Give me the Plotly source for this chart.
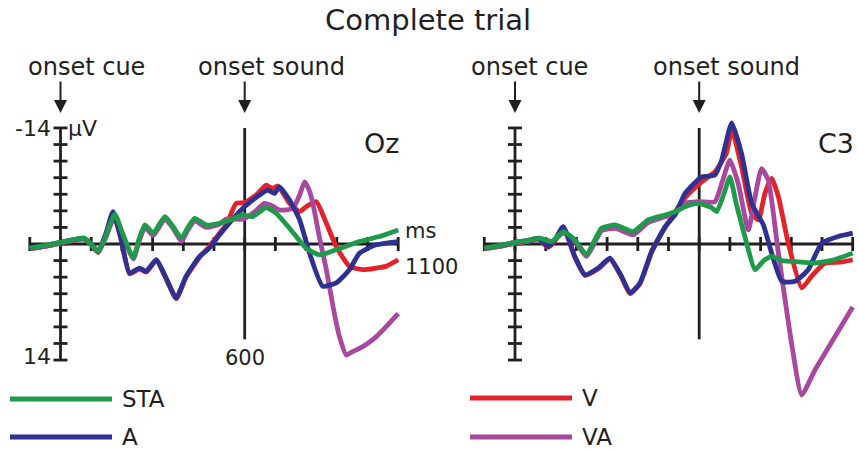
import plotly.graph_objects as go

# ---------------- data (time in ms, amplitude in microvolts; negative plotted up) ----------------
# Oz (left panel)
oz_sta_t = [-100, -50, 0, 40, 75, 100, 123, 150, 177, 200, 237, 255, 275, 302, 340, 365, 394, 415, 437, 475, 518,
            560, 594, 626, 670, 703, 746, 800, 844, 898, 974, 1039, 1100]
oz_sta_v = [0.5, 0.2, -0.2, -0.5, -0.7, 0.0, 0.9, -1.2, -3.6, -1.5, 1.7, -0.5, -2.3, -1.3, -3.3, -2.2, -0.7, -2.0, -3.1, -2.3, -2.5,
            -3.0, -3.5, -3.3, -4.4, -3.7, -1.9, 0.5, 1.3, 0.7, -0.3, -0.9, -1.7]

oz_va_t = [-100, -50, 0, 40, 75, 100, 123, 150, 177, 200, 237, 255, 275, 302, 340, 365, 394, 415, 437, 475, 518,
           540, 594, 630, 664, 690, 713, 757, 780, 795, 810, 822, 845, 866, 890, 909, 931, 950, 974, 1000, 1028, 1060, 1100]
oz_va_v = [0.6, 0.3, -0.1, -0.4, -0.6, 0.1, 1.0, -1.0, -3.4, -1.3, 1.8, -0.2, -2.0, -1.0, -3.0, -2.0, -0.3, -1.7, -2.8, -2.0, -2.4,
           -3.0, -3.0, -3.8, -4.9, -4.6, -4.1, -4.3, -6.0, -7.5, -6.5, -4.9, -0.5, 3.1, 8.0, 11.2, 13.4, 13.0, 12.6, 12.0, 11.2, 10.0, 8.4]

oz_a_t = [-100, -50, 0, 40, 75, 100, 123, 150, 171, 195, 225, 257, 279, 312, 344, 377, 409, 453, 485, 518,
          540, 594, 648, 675, 697, 713, 746, 779, 811, 854, 898, 941, 974, 1028, 1100]
oz_a_v = [0.5, 0.2, -0.2, -0.5, -0.7, 0.0, 0.9, -1.5, -3.9, -1.0, 3.5, 2.9, 3.3, 1.9, 4.1, 6.5, 3.9, 1.5, 0.5, -1.1,
          -2.1, -4.3, -5.9, -6.5, -6.1, -6.9, -5.3, -2.9, 1.1, 5.1, 4.7, 3.1, 1.1, 0.1, -0.3]

oz_v_t = [-100, -50, 0, 40, 75, 100, 123, 150, 171, 195, 225, 257, 279, 312, 344, 377, 409, 453, 485, 518,
          540, 572, 600, 640, 670, 690, 708, 746, 779, 800, 833, 866, 898, 941, 985, 1028, 1060, 1100]
oz_v_v = [0.6, 0.3, -0.1, -0.4, -0.6, 0.1, 1.0, -1.4, -3.7, -0.9, 3.6, 3.0, 3.4, 2.0, 4.2, 6.6, 4.0, 1.6, 0.3, -1.3,
          -2.3, -4.9, -5.0, -6.0, -7.1, -6.7, -7.0, -4.9, -3.9, -4.5, -5.1, -2.5, 0.3, 2.7, 3.1, 2.9, 2.7, 1.9]

# C3 (right panel)
c3_sta_t = [-100, -50, 0, 40, 76, 100, 120, 157, 195, 233, 260, 282, 326, 342, 385, 434, 489, 521, 554, 597, 640,
            657, 680, 700, 720, 749, 782, 810, 836, 870, 901, 977, 1040, 1100]
c3_sta_v = [0.5, 0.2, -0.2, -0.4, -0.7, -0.5, -0.3, -1.5, -0.5, 1.3, -0.5, -1.9, -2.3, -2.1, -1.5, -2.9, -3.5, -3.9, -4.5, -4.9, -4.4,
            -3.9, -6.0, -8.1, -5.0, -0.9, 3.1, 2.0, 1.5, 2.0, 2.1, 2.3, 1.9, 1.1]

c3_va_t = [-100, -50, 0, 40, 76, 100, 120, 157, 195, 233, 260, 282, 326, 342, 385, 434, 489, 521,
           554, 597, 651, 675, 700, 727, 760, 782, 803, 825, 858, 901, 934, 977, 1042, 1100]
c3_va_v = [0.6, 0.3, -0.1, -0.3, -0.6, -0.4, -0.2, -1.3, -0.3, 1.5, -0.2, -1.6, -1.9, -1.7, -1.1, -2.6, -3.3, -3.7,
           -4.9, -5.1, -5.1, -7.5, -10.1, -7.3, -1.7, -5.7, -9.1, -7.7, 1.1, 12.0, 18.2, 15.2, 11.2, 7.6]

c3_a_t = [-100, -50, 0, 40, 76, 108, 130, 157, 195, 228, 271, 309, 347, 375, 407, 445, 489, 521, 554, 608, 651,
          673, 706, 738, 771, 809, 836, 869, 912, 955, 999, 1053, 1100]
c3_a_v = [0.5, 0.2, -0.2, -0.4, -0.7, 0.3, -0.5, -2.1, 1.5, 3.7, 2.9, 1.7, 3.9, 5.9, 4.7, 0.9, -2.1, -3.5, -6.1, -8.1, -8.3,
          -10.1, -14.6, -10.9, -4.9, -2.3, 1.1, 4.5, 4.5, 3.1, -0.1, -0.9, -1.3]

c3_v_t = [-100, -50, 0, 40, 76, 108, 130, 157, 195, 228, 271, 309, 347, 375, 407, 445, 489, 554, 608, 651,
          689, 706, 738, 771, 793, 814, 836, 858, 890, 934, 966, 1010, 1060, 1100]
c3_v_v = [0.6, 0.3, -0.1, -0.3, -0.6, 0.4, -0.4, -2.0, 1.6, 3.8, 3.0, 1.8, 4.0, 6.0, 4.8, 1.0, -2.0, -5.6, -7.5, -8.7,
          -11.0, -13.8, -9.3, -3.7, -2.9, -6.1, -7.9, -5.7, -0.1, 5.3, 3.9, 2.3, 2.2, 1.9]

y_ticks = list(range(-14, 15, 2))
x_ticks = list(range(-100, 1101, 100))
y_labels = ["-14", "14"]
x_labels = ["600", "1100"]
legend_names = ["STA", "A", "V", "VA"]

# ---------------- styles ----------------
C_STA = "#1f9a4a"
C_A = "#2e3192"
C_V = "#e3222a"
C_VA = "#a8489e"
INK = "#231f20"
FONT = "DejaVu Sans, Liberation Sans, Arial, sans-serif"
W, H = 858, 452

fig = go.Figure()

panels = [
    ("x", "y", oz_sta_t, oz_sta_v, oz_va_t, oz_va_v, oz_a_t, oz_a_v, oz_v_t, oz_v_v),
    ("x2", "y2", c3_sta_t, c3_sta_v, c3_va_t, c3_va_v, c3_a_t, c3_a_v, c3_v_t, c3_v_v),
]

for xa, ya, st, sv, vat, vav, at, av, vt, vv in panels:
    # axes
    fig.add_trace(go.Scatter(x=[x_ticks[0], x_ticks[-1]], y=[0, 0], mode="lines",
                             line=dict(color=INK, width=2.8), xaxis=xa, yaxis=ya, hoverinfo="skip"))
    fig.add_trace(go.Scatter(x=[0, 0], y=[y_ticks[0], y_ticks[-1]], mode="lines",
                             line=dict(color=INK, width=2.8), xaxis=xa, yaxis=ya, hoverinfo="skip"))
    fig.add_trace(go.Scatter(x=[600, 600], y=[y_ticks[0], 11.5], mode="lines",
                             line=dict(color=INK, width=2.8), xaxis=xa, yaxis=ya, hoverinfo="skip"))
    fig.add_trace(go.Scatter(x=[0] * len(y_ticks), y=y_ticks, mode="markers",
                             marker=dict(symbol="line-ew", size=10, line=dict(color=INK, width=2.8)),
                             xaxis=xa, yaxis=ya, hoverinfo="skip"))
    fig.add_trace(go.Scatter(x=x_ticks, y=[0] * len(x_ticks), mode="markers",
                             marker=dict(symbol="line-ns", size=10, line=dict(color=INK, width=2.8)),
                             xaxis=xa, yaxis=ya, hoverinfo="skip"))
    # curves
    for t, v, c, n in [(vt, vv, C_V, "V"), (vat, vav, C_VA, "VA"), (at, av, C_A, "A"), (st, sv, C_STA, "STA")]:
        fig.add_trace(go.Scatter(x=t, y=v, mode="lines", name=n,
                                 line=dict(color=c, width=4.8, shape="spline", smoothing=0.5),
                                 xaxis=xa, yaxis=ya))

# pixel geometry -> axis ranges
SCALE_X = 0.307      # px per ms
SCALE_Y = 8.29       # px per microvolt
Y0 = 244             # pixel row of 0 uV
L0, R0 = 60.5, 515   # pixel column of 0 ms in each panel
LD = (0, 420)
RD = (440, 858)

def xr(dom, zero):
    return [(dom[0] - zero) / SCALE_X, (dom[1] - zero) / SCALE_X]

yrange = [(H - Y0) / SCALE_Y, (0 - Y0) / SCALE_Y]

ax_common = dict(visible=False, showgrid=False, zeroline=False, fixedrange=True)
fig.update_layout(
    width=W, height=H,
    margin=dict(l=0, r=0, t=0, b=0),
    paper_bgcolor="white", plot_bgcolor="white",
    showlegend=False,
    xaxis=dict(domain=[LD[0] / W, LD[1] / W], range=xr(LD, L0), **ax_common),
    xaxis2=dict(domain=[RD[0] / W, RD[1] / W], range=xr(RD, R0), **ax_common),
    yaxis=dict(domain=[0, 1], range=yrange, anchor="x", **ax_common),
    yaxis2=dict(domain=[0, 1], range=yrange, anchor="x2", **ax_common),
    font=dict(family=FONT, color=INK),
)

def py(p):
    return 1 - p / H

def px(p):
    return p / W

ann = []
def text(s, x, y, size, xanchor="center"):
    ann.append(dict(text=s, x=px(x), y=py(y), xref="paper", yref="paper", showarrow=False,
                    xanchor=xanchor, yanchor="middle", font=dict(size=size, color=INK, family=FONT)))

text("Complete trial", 428, 20, 29)
text("onset cue", 86, 67, 24)
text("onset sound", 271, 67, 24)
text("onset cue", 529, 67, 24)
text("onset sound", 726, 67, 24)
text(y_labels[0], 53, 128, 22, "right")
text("μV", 66, 128, 22, "left")
text(y_labels[1], 53, 356, 22, "right")
text(x_labels[0], 245, 358, 21)
text("ms", 403, 231, 21, "left")
text(x_labels[1], 403, 267, 21, "left")
text("Oz", 381, 143, 27)
text("C3", 836, 143, 27)

# arrows at onset cue (0 ms) and onset sound (600 ms)
for xref in ["x", "x2"]:
    for t in [0, 600]:
        ann.append(dict(text="", x=t, y=py(113), xref=xref, yref="paper", ax=0, ay=-33,
                        showarrow=True, arrowhead=2, arrowsize=1.3, arrowwidth=2, arrowcolor=INK))

# legend
legend_items = [(legend_names[0], C_STA, 10, 399), (legend_names[1], C_A, 10, 437),
                (legend_names[2], C_V, 470, 398), (legend_names[3], C_VA, 470, 437)]
shapes = []
for name, col, x0, yy in legend_items:
    shapes.append(dict(type="line", xref="paper", yref="paper", x0=px(x0), x1=px(x0 + 102),
                       y0=py(yy), y1=py(yy), line=dict(color=col, width=5)))
    text(name, x0 + 110, yy, 23, "left")

fig.update_layout(annotations=ann, shapes=shapes)
fig.write_html("out.html")
